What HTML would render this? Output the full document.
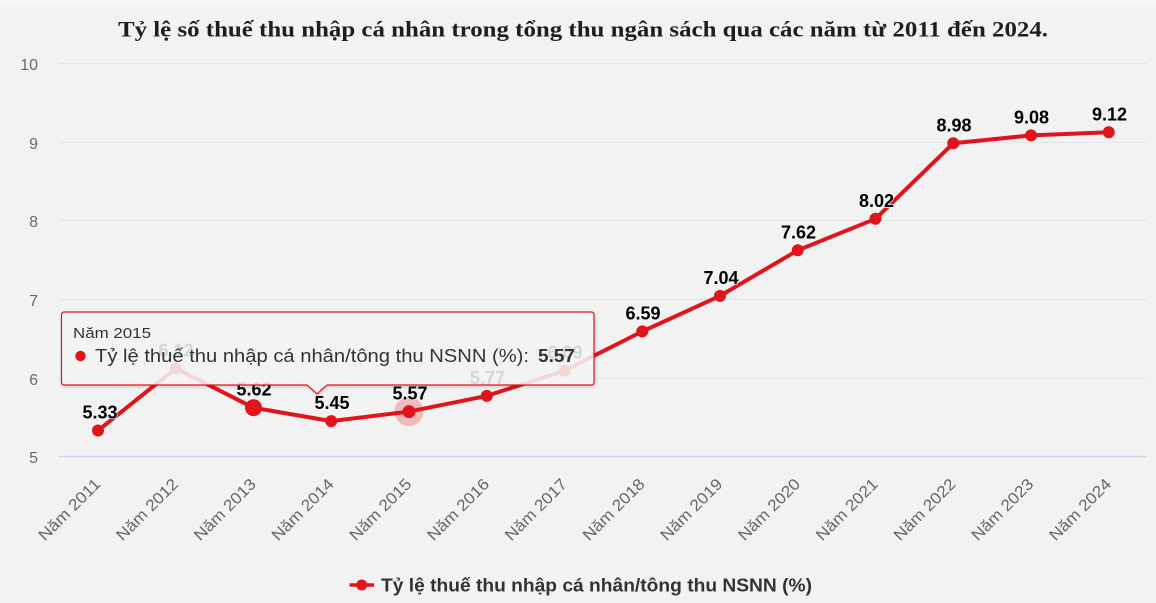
<!DOCTYPE html>
<html><head><meta charset="utf-8"><style>
html,body{margin:0;padding:0;background:#f2f2f2;}
svg{display:block;}
</style></head><body>
<svg width="1156" height="603" viewBox="0 0 1156 603" xmlns="http://www.w3.org/2000/svg">
<defs>
<filter id="sh" x="-5%" y="-20%" width="110%" height="150%">
<feDropShadow dx="1" dy="1.5" stdDeviation="1.5" flood-color="#000" flood-opacity="0.18"/>
</filter>
</defs>
<rect x="0" y="0" width="1156" height="603" fill="#f2f2f2"/>
<rect x="0" y="0" width="1156" height="3" fill="#f7f7f7"/>

<!-- title -->
<text x="118" y="36.5" font-family="Liberation Serif, serif" font-weight="bold" font-size="22" fill="#1e1e1e" textLength="930" lengthAdjust="spacingAndGlyphs">Tỷ lệ số thuế thu nhập cá nhân trong tổng thu ngân sách qua các năm từ 2011 đến 2024.</text>

<!-- gridlines -->
<g stroke="#e4e4e4" stroke-width="1">
<line x1="59" y1="63.5" x2="1147" y2="63.5"/>
<line x1="59" y1="142.5" x2="1147" y2="142.5"/>
<line x1="59" y1="220.5" x2="1147" y2="220.5"/>
<line x1="59" y1="299.5" x2="1147" y2="299.5"/>
<line x1="59" y1="378.5" x2="1147" y2="378.5"/>
</g>
<line x1="59" y1="456.5" x2="1147" y2="456.5" stroke="#ccd6eb" stroke-width="1.5"/>

<!-- y labels -->
<g font-family="Liberation Sans, sans-serif" font-size="16" fill="#6a6a6a" text-anchor="end">
<text x="38" y="70">10</text>
<text x="38" y="149">9</text>
<text x="38" y="227">8</text>
<text x="38" y="306">7</text>
<text x="38" y="385">6</text>
<text x="38" y="463">5</text>
</g>

<!-- x labels -->
<g font-family="Liberation Sans, sans-serif" font-size="16" fill="#666" text-anchor="end">
<text transform="translate(101.5,485) rotate(-45)" textLength="80" lengthAdjust="spacingAndGlyphs">Năm 2011</text>
<text transform="translate(179.25,485) rotate(-45)" textLength="80" lengthAdjust="spacingAndGlyphs">Năm 2012</text>
<text transform="translate(257,485) rotate(-45)" textLength="80" lengthAdjust="spacingAndGlyphs">Năm 2013</text>
<text transform="translate(334.75,485) rotate(-45)" textLength="80" lengthAdjust="spacingAndGlyphs">Năm 2014</text>
<text transform="translate(412.5,485) rotate(-45)" textLength="80" lengthAdjust="spacingAndGlyphs">Năm 2015</text>
<text transform="translate(490.25,485) rotate(-45)" textLength="80" lengthAdjust="spacingAndGlyphs">Năm 2016</text>
<text transform="translate(568,485) rotate(-45)" textLength="80" lengthAdjust="spacingAndGlyphs">Năm 2017</text>
<text transform="translate(645.75,485) rotate(-45)" textLength="80" lengthAdjust="spacingAndGlyphs">Năm 2018</text>
<text transform="translate(723.5,485) rotate(-45)" textLength="80" lengthAdjust="spacingAndGlyphs">Năm 2019</text>
<text transform="translate(801.25,485) rotate(-45)" textLength="80" lengthAdjust="spacingAndGlyphs">Năm 2020</text>
<text transform="translate(879,485) rotate(-45)" textLength="80" lengthAdjust="spacingAndGlyphs">Năm 2021</text>
<text transform="translate(956.75,485) rotate(-45)" textLength="80" lengthAdjust="spacingAndGlyphs">Năm 2022</text>
<text transform="translate(1034.5,485) rotate(-45)" textLength="80" lengthAdjust="spacingAndGlyphs">Năm 2023</text>
<text transform="translate(1112.25,485) rotate(-45)" textLength="80" lengthAdjust="spacingAndGlyphs">Năm 2024</text>
</g>

<!-- series -->
<polyline fill="none" stroke="#e2141b" stroke-width="4" stroke-linejoin="round" stroke-linecap="round"
points="98,430.5 175.75,368.4 253.5,407.7 331.25,421.1 409,411.6 486.75,395.9 564.5,370.7 642.25,331.4 720,295.9 797.75,250.3 875.5,218.8 953.25,143.3 1031,135.4 1108.75,132.3"/>
<circle cx="409" cy="411.6" r="14.5" fill="#e2141b" fill-opacity="0.25"/>
<g fill="#e2141b">
<circle cx="98" cy="430.5" r="6"/>
<circle cx="175.75" cy="368.4" r="6"/>
<circle cx="253.5" cy="407.7" r="8.5"/>
<circle cx="331.25" cy="421.1" r="6"/>
<circle cx="409" cy="411.6" r="6.5"/>
<circle cx="486.75" cy="395.9" r="6"/>
<circle cx="564.5" cy="370.7" r="6"/>
<circle cx="642.25" cy="331.4" r="6"/>
<circle cx="720" cy="295.9" r="6"/>
<circle cx="797.75" cy="250.3" r="6"/>
<circle cx="875.5" cy="218.8" r="6"/>
<circle cx="953.25" cy="143.3" r="6"/>
<circle cx="1031" cy="135.4" r="6"/>
<circle cx="1108.75" cy="132.3" r="6"/>
</g>

<!-- data labels -->
<g font-family="Liberation Sans, sans-serif" font-size="18" font-weight="bold" fill="#000" text-anchor="middle" stroke="#f2f2f2" stroke-width="1.5" paint-order="stroke">
<text x="100" y="418.5">5.33</text>
<text x="176" y="356.4">6.12</text>
<text x="254" y="395.5">5.62</text>
<text x="332" y="409">5.45</text>
<text x="410" y="399.6">5.57</text>
<text x="487.5" y="384">5.77</text>
<text x="565" y="358.7">6.09</text>
<text x="643" y="319.4">6.59</text>
<text x="721" y="283.9">7.04</text>
<text x="798.5" y="238.3">7.62</text>
<text x="876.5" y="206.8">8.02</text>
<text x="954" y="131.3">8.98</text>
<text x="1031.5" y="123.4">9.08</text>
<text x="1109.5" y="120.3">9.12</text>
</g>

<!-- tooltip -->
<g filter="url(#sh)">
<path d="M64.5,312 H591 Q594,312 594,315 V382 Q594,385 591,385 H327 L317,394 L307,385 H64.5 Q61.5,385 61.5,382 V315 Q61.5,312 64.5,312 Z" fill="#f7f7f7" fill-opacity="0.85" stroke="#e2141b" stroke-width="1.2"/>
</g>
<text x="73" y="338" font-family="Liberation Sans, sans-serif" font-size="15" fill="#333" textLength="78" lengthAdjust="spacingAndGlyphs">Năm 2015</text>
<circle cx="80.5" cy="356" r="5.2" fill="#e2141b"/>
<text x="95" y="362" font-family="Liberation Sans, sans-serif" font-size="18" fill="#333" textLength="434" lengthAdjust="spacingAndGlyphs">Tỷ lệ thuế thu nhập cá nhân/tông thu NSNN (%):</text>
<text x="538" y="362" font-family="Liberation Sans, sans-serif" font-size="18" font-weight="bold" fill="#333" textLength="37" lengthAdjust="spacingAndGlyphs">5.57</text>

<!-- legend -->
<line x1="349.5" y1="585" x2="374" y2="585" stroke="#e2141b" stroke-width="3.5"/>
<circle cx="361.7" cy="585" r="5.5" fill="#e2141b"/>
<text x="381" y="591.5" font-family="Liberation Sans, sans-serif" font-size="18" font-weight="bold" fill="#333" textLength="431" lengthAdjust="spacingAndGlyphs">Tỷ lệ thuế thu nhập cá nhân/tông thu NSNN (%)</text>
</svg>
</body></html>
